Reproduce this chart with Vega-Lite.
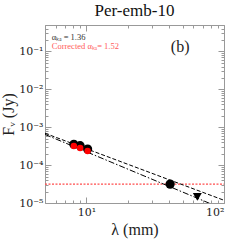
{
  "$schema": "https://vega.github.io/schema/vega-lite/v6.json",
  "width": 179,
  "height": 178,
  "autosize": "none",
  "padding": {"left": 45, "top": 25, "right": 25, "bottom": 46},
  "background": "white",
  "title": {"text": "Per-emb-10", "font": "Liberation Serif", "fontSize": 17, "fontWeight": "normal", "color": "#111", "offset": 5},
  "config": {
    "view": {"stroke": null},
    "axis": {"domainColor": "#999", "tickColor": "#999", "labelFont": "DejaVu Serif", "titleFont": "Liberation Serif", "labelColor": "#222", "titleColor": "#222", "titleFontWeight": "normal", "grid": false}
  },
  "datasets": {
    "pts": [
      {"lambda": 8.1, "flux": 0.000355, "kind": "obs"},
      {"lambda": 9.0, "flux": 0.000326, "kind": "obs"},
      {"lambda": 10.2, "flux": 0.000266, "kind": "obs"},
      {"lambda": 40.6, "flux": 0.0000315, "kind": "obs"}
    ],
    "corr": [
      {"lambda": 8.1, "flux": 0.00032},
      {"lambda": 9.0, "flux": 0.000283},
      {"lambda": 10.2, "flux": 0.000235}
    ],
    "lim": [
      {"lambda": 64, "flux": 0.0000145}
    ],
    "fits": [
      {"lambda": 5, "flux": 0.000693, "fit": "alpha136"},
      {"lambda": 100, "flux": 0.0000118, "fit": "alpha136"},
      {"lambda": 5, "flux": 0.000645, "fit": "alpha152"},
      {"lambda": 100, "flux": 0.00000679, "fit": "alpha152"}
    ],
    "hline": [
      {"lambda": 5, "flux": 0.0000315},
      {"lambda": 100, "flux": 0.0000315}
    ],
    "labels": [
      {"lambda": 5.6, "flux": 0.235, "text": "αₖₐ = 1.36", "kind": "a"},
      {"lambda": 5.6, "flux": 0.136, "text": "Corrected αₖₐ= 1.52", "kind": "b"}
    ],
    "panel": [
      {"lambda": 48, "flux": 0.13, "text": "(b)"}
    ]
  },
  "resolve": {"axis": {"x": "independent", "y": "independent"}},
  "layer": [
    {
      "data": {"name": "hline"},
      "mark": {"type": "line", "color": "#ff4d4d", "strokeDash": [2, 1.5], "strokeWidth": 1.3, "clip": true},
      "encoding": {
        "x": {"field": "lambda", "type": "quantitative", "scale": {"type": "log", "domain": [5, 100], "nice": false},
          "axis": {"orient": "bottom", "title": "λ (mm)", "titleFontSize": 16, "titlePadding": 4, "labelFontSize": 11, "labelPadding": 9,
            "values": [5, 6, 7, 8, 9, 10, 20, 30, 40, 50, 60, 70, 80, 90, 100],
            "labelExpr": "datum.value == 10 ? '10¹' : datum.value == 100 ? '10²' : ''",
            "tickSize": {"condition": {"test": "datum.value == 10 || datum.value == 100", "value": -6}, "value": -3}}},
        "y": {"field": "flux", "type": "quantitative", "scale": {"type": "log", "domain": [0.00001, 0.5], "nice": false},
          "axis": {"orient": "left", "title": "Fᵥ (Jy)", "titleFontSize": 16, "titlePadding": 2, "labelFontSize": 11, "labelPadding": 8,
            "values": [0.00001, 0.00002, 0.00003, 0.00004, 0.00005, 0.00006, 0.00007, 0.00008, 0.00009, 0.0001, 0.0002, 0.0003, 0.0004, 0.0005, 0.0006, 0.0007, 0.0008, 0.0009, 0.001, 0.002, 0.003, 0.004, 0.005, 0.006, 0.007, 0.008, 0.009, 0.01, 0.02, 0.03, 0.04, 0.05, 0.06, 0.07, 0.08, 0.09, 0.1, 0.2, 0.3, 0.4, 0.5],
            "labelExpr": "abs(log(datum.value)/LN10 - round(log(datum.value)/LN10)) < 0.001 ? '10⁻' + ['⁰','¹','²','³','⁴','⁵','⁶'][-round(log(datum.value)/LN10)] : ''",
            "tickSize": {"condition": {"test": "abs(log(datum.value)/LN10 - round(log(datum.value)/LN10)) < 0.001", "value": -6}, "value": -3}}}
      }
    },
    {
      "data": {"name": "fits"},
      "mark": {"type": "line", "color": "black", "strokeWidth": 1, "clip": true},
      "encoding": {
        "x": {"field": "lambda", "type": "quantitative", "scale": {"type": "log", "domain": [5, 100], "nice": false},
          "axis": {"orient": "top", "title": null, "labels": false,
            "values": [5, 6, 7, 8, 9, 10, 20, 30, 40, 50, 60, 70, 80, 90, 100],
            "tickSize": {"condition": {"test": "datum.value == 10 || datum.value == 100", "value": -6}, "value": -3}}},
        "y": {"field": "flux", "type": "quantitative", "scale": {"type": "log", "domain": [0.00001, 0.5], "nice": false},
          "axis": {"orient": "right", "title": null, "labels": false,
            "values": [0.00001, 0.00002, 0.00003, 0.00004, 0.00005, 0.00006, 0.00007, 0.00008, 0.00009, 0.0001, 0.0002, 0.0003, 0.0004, 0.0005, 0.0006, 0.0007, 0.0008, 0.0009, 0.001, 0.002, 0.003, 0.004, 0.005, 0.006, 0.007, 0.008, 0.009, 0.01, 0.02, 0.03, 0.04, 0.05, 0.06, 0.07, 0.08, 0.09, 0.1, 0.2, 0.3, 0.4, 0.5],
            "tickSize": {"condition": {"test": "abs(log(datum.value)/LN10 - round(log(datum.value)/LN10)) < 0.001", "value": -6}, "value": -3}}},
        "detail": {"field": "fit"},
        "strokeDash": {"field": "fit", "type": "nominal", "scale": {"domain": ["alpha136", "alpha152"], "range": [[4, 2], [6, 2, 1.5, 2]]}, "legend": null}
      }
    },
    {
      "data": {"name": "pts"},
      "mark": {"type": "point", "shape": "circle", "filled": true, "color": "black", "size": 85, "opacity": 1},
      "encoding": {
        "x": {"field": "lambda", "type": "quantitative", "axis": null},
        "y": {"field": "flux", "type": "quantitative", "axis": null}
      }
    },
    {
      "data": {"name": "corr"},
      "mark": {"type": "point", "shape": "circle", "filled": true, "color": "#ff0000", "size": 42, "opacity": 1},
      "encoding": {
        "x": {"field": "lambda", "type": "quantitative", "axis": null},
        "y": {"field": "flux", "type": "quantitative", "axis": null}
      }
    },
    {
      "data": {"name": "lim"},
      "mark": {"type": "point", "shape": "triangle-down", "filled": true, "color": "black", "size": 80, "opacity": 1},
      "encoding": {
        "x": {"field": "lambda", "type": "quantitative", "axis": null},
        "y": {"field": "flux", "type": "quantitative", "axis": null}
      }
    },
    {
      "data": {"name": "labels"},
      "mark": {"type": "text", "align": "left", "baseline": "middle", "font": "Liberation Serif", "fontSize": 8.5},
      "encoding": {
        "x": {"field": "lambda", "type": "quantitative", "axis": null},
        "y": {"field": "flux", "type": "quantitative", "axis": null},
        "text": {"field": "text"},
        "color": {"field": "kind", "type": "nominal", "scale": {"domain": ["a", "b"], "range": ["#333333", "#ff5a5a"]}, "legend": null}
      }
    },
    {
      "data": {"name": "panel"},
      "mark": {"type": "text", "align": "center", "baseline": "middle", "font": "Liberation Serif", "fontSize": 16, "color": "#222"},
      "encoding": {
        "x": {"field": "lambda", "type": "quantitative", "axis": null},
        "y": {"field": "flux", "type": "quantitative", "axis": null},
        "text": {"field": "text"}
      }
    }
  ]
}
